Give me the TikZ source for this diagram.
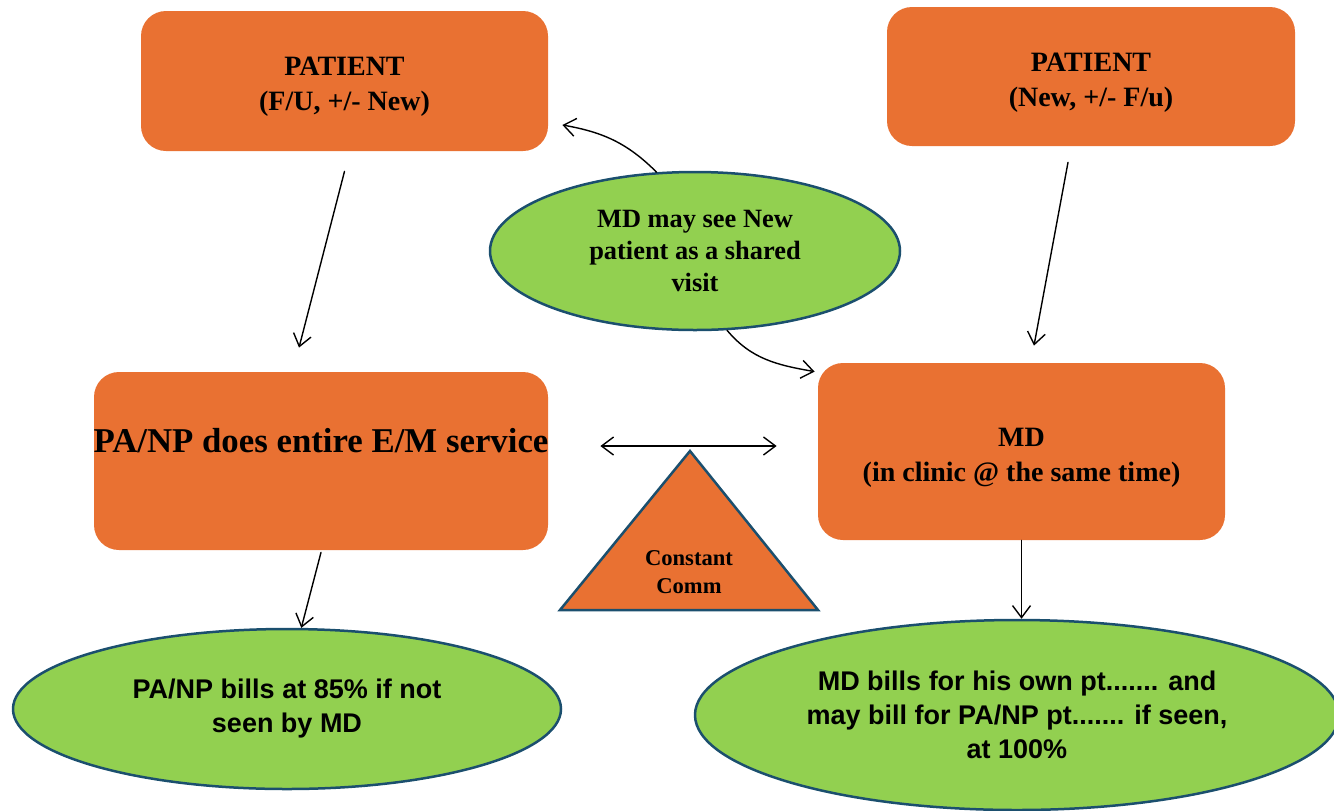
\documentclass[tikz,border=0pt]{standalone}
\usepackage{fontspec}
\setmainfont{Liberation Serif}
\newfontfamily\ovalsans{Liberation Sans}
\usetikzlibrary{shapes.geometric,arrows.meta}
\definecolor{boxorange}{HTML}{E97132}
\definecolor{ovalgreen}{HTML}{92D050}
\definecolor{ovalline}{HTML}{1B4F6E}

\begin{document}
\begin{tikzpicture}[x=0.5pt,y=-0.5pt,line cap=round,line join=round,
    >={Straight Barb[length=6pt,width=9pt]},
    box/.style={fill=boxorange,rounded corners=12.5pt,inner sep=0pt,align=center,
      font=\bfseries\fontsize{14pt}{17.5pt}\selectfont},
    oval/.style={ellipse,draw=ovalline,line width=1.25pt,fill=ovalgreen,inner sep=0pt,align=center},
    arr/.style={->,line width=0.7pt}]
  \useasboundingbox (0,0) rectangle (1334,810);

  % patients and providers
  \node[box,minimum width=203.5pt,minimum height=70pt] (fu) at (344.5,81) {\rule{0pt}{15pt}PATIENT\\(F/U, +/- New)};
  \node[box,minimum width=204pt,minimum height=69.5pt] (fnew) at (1091,76.5) {\rule{0pt}{15pt}PATIENT\\(New, +/- F/u)};
  \node[box,minimum width=227pt,minimum height=89pt] (panp) at (321,461) {};
  \node[font=\bfseries\fontsize{17.4pt}{21pt}\selectfont,inner sep=0pt] (panptxt) at (321,441) {PA/NP does entire E/M service};
  \node[box,minimum width=203.5pt,minimum height=88.5pt] (md) at (1021.5,451.5) {\rule{0pt}{15pt}MD\\(in clinic @ the same time)};

  \node[oval,minimum width=205pt,minimum height=79pt,font=\bfseries\fontsize{13.2pt}{16pt}\selectfont]
    (shared) at (695,251) {MD may see New\\patient as a shared\\visit};

  % constant communication
  \draw[fill=boxorange,draw=ovalline,line width=1.25pt,line join=miter] (690,451) -- (818,610) -- (560,610) -- cycle;
  \node[font=\bfseries\fontsize{11.3pt}{14pt}\selectfont,align=center,inner sep=0pt] (comm) at (689,572) {Constant\\Comm};

  % billing
  \node[oval,minimum width=274pt,minimum height=80pt,font=\ovalsans\bfseries\fontsize{13.5pt}{17pt}\selectfont]
    (bill) at (287,709) {PA/NP bills at 85\% if not\\seen by MD};
  \node[oval,minimum width=322pt,minimum height=95pt,font=\ovalsans\bfseries\fontsize{13.5pt}{17pt}\selectfont]
    (mdbill) at (1017,715) {MD bills for his own pt....... and\\may bill for PA/NP pt....... if seen,\\at 100\%};

  \draw[arr] ([yshift=-10pt]fu.south) -- ([xshift=-11pt,yshift=12pt]panp.north);
  \draw[arr] ([xshift=-11.5pt,yshift=-8pt]fnew.south) -- ([xshift=6.25pt,yshift=8.5pt]md.north);
  \draw[arr,<->] ([xshift=26pt,yshift=7.5pt]panp.east) -- ([xshift=-20.5pt,yshift=2.75pt]md.west);
  \draw[arr] (shared.116) to[out=135,in=-10] ([xshift=7pt,yshift=-22pt]fu.east);
  \draw[arr] (shared.-68) to[out=-50,in=170] ([xshift=-1.5pt,yshift=-4.5pt]md.north west);
  \draw[arr] ([yshift=-1pt]panp.south) -- (bill.80);
  \draw[arr] (md.south) -- (md.south |- mdbill.north);
\end{tikzpicture}
\end{document}
